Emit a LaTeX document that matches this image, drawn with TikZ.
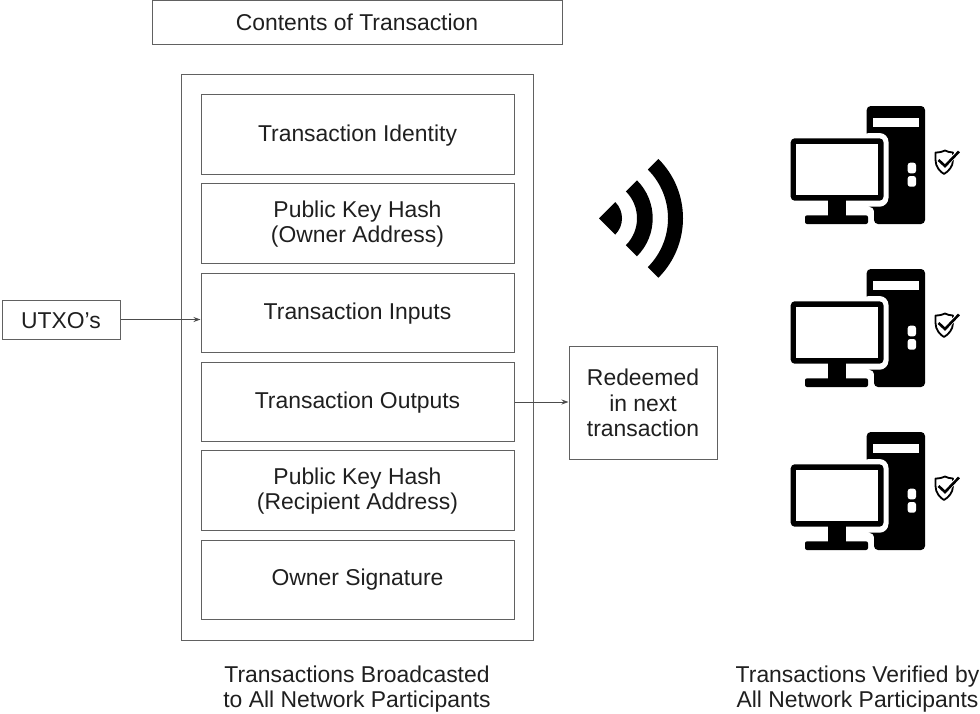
\documentclass[tikz,border=0pt]{standalone}
\usepackage{fontspec}
\setmainfont{Liberation Sans}
\usetikzlibrary{arrows.meta}
\tikzset{
  boxn/.style={draw=black!62,line width=1pt,inner sep=0pt},
  txt/.style={inner sep=0pt,align=center,font=\fontsize{22.9}{25.7}\selectfont,text=black!88},
  conn/.style={draw=black!70,line width=0.9pt,-{Stealth[length=7pt,width=5pt]}}
}
\newcommand{\pcicon}[1]{%
\begin{scope}[yshift=-#1pt]
  \fill[black,rounded corners=4pt] (866.7,106) -- (925,106) -- (925,224) -- (874,224) -- (874,207) -- (866.7,207) -- (866.7,133) -- cycle;
  \fill[white] (872.7,117.7) rectangle (919.3,126.7);
  \fill[white,rounded corners=2.5pt] (907.7,162.7) rectangle (916,173.3);
  \fill[white,rounded corners=2.5pt] (907.7,176) rectangle (916,186.7);
  \fill[white,rounded corners=9pt] (860,133) -- (888.5,133) -- (888.5,206.7) -- (860,206.7) -- cycle;
  \fill[black,rounded corners=4pt] (790.7,138.3) rectangle (883.5,200.7);
  \fill[white] (796,144) rectangle (878,195);
  \fill[black] (828,199) rectangle (846,216);
  \fill[black,rounded corners=2pt] (805,215.3) rectangle (868,224);
  \draw[black,line width=1.8pt,fill=white,line join=round] (935.5,152.5) .. controls (940,152.5) and (943,151.5) .. (945,150.5) .. controls (947,151.5) and (950,152.5) .. (953,152.5) -- (953,160) .. controls (953,167) and (948,171.5) .. (944,174) .. controls (940,171.5) and (935.5,167) .. (935.5,160) -- cycle;
  \draw[white,line width=4.4pt] (947,163.5) -- (959,151.5);
  \draw[black,line width=2.6pt] (938.5,160) -- (945,166) -- (959,151.5);
\end{scope}}
\begin{document}
\begin{tikzpicture}[x=1pt,y=-1pt]
\useasboundingbox (0,0) rectangle (980,713);
\node[boxn,minimum width=410pt,minimum height=44pt] (title) at (357,22) {};
\node[txt] (titlet) at (357,22.5) {Contents of Transaction};
\node[boxn,minimum width=352pt,minimum height=566pt] (outer) at (357,357) {};
\node[boxn,minimum width=313pt,minimum height=80pt] (tid) at (357.5,134.5) {};
\node[txt] (tidt) at (357.5,135.5) {Transaction Identity};
\node[boxn,minimum width=313pt,minimum height=80pt] (owner) at (357.5,223) {};
\node[txt] (ownert) at (357.5,224) {Public Key Hash\\(Owner Address)};
\node[boxn,minimum width=313pt,minimum height=79pt] (inputs) at (357.5,312.5) {};
\node[txt] (inputst) at (357.5,313.5) {Transaction Inputs};
\node[boxn,minimum width=313pt,minimum height=79pt] (outputs) at (357.5,402) {};
\node[txt] (outputst) at (357.5,402.5) {Transaction Outputs};
\node[boxn,minimum width=313pt,minimum height=80pt] (recip) at (357.5,490) {};
\node[txt] (recipt) at (357.5,491) {Public Key Hash\\(Recipient Address)};
\node[boxn,minimum width=313pt,minimum height=79pt] (sig) at (357.5,579.5) {};
\node[txt] (sigt) at (357.5,579.5) {Owner Signature};
\node[boxn,minimum width=118pt,minimum height=39pt] (utxo) at (61,319.5) {};
\node[txt] (utxot) at (61,321) {UTXO’s};
\node[boxn,minimum width=148pt,minimum height=113pt] (redeem) at (643,402.5) {};
\node[txt] (redeemt) at (643,403) {Redeemed\\in next\\transaction};
\draw[conn] (utxo.east) -- (inputs.west |- utxo.east);
\draw[conn] (outputs.east) -- (redeem.west |- outputs.east);
\node[txt] (cap1) at (357,689) {Transactions Broadcasted\\to All Network Participants};
\node[txt] (cap2) at (857.5,689) {Transactions Verified by\\All Network Participants};
% wireless symbol
\begin{scope}[shift={(599,218.3)}]
  \fill[black] (0,0) -- (45:23) arc[start angle=45,end angle=-45,radius=23] -- cycle;
  \fill[black] (45:38) arc[start angle=45,end angle=-45,radius=38] -- (-45:53.7) arc[start angle=-45,end angle=45,radius=53.7] -- cycle;
  \fill[black] (45:69) arc[start angle=45,end angle=-45,radius=69] -- (-45:84) arc[start angle=-45,end angle=45,radius=84] -- cycle;
\end{scope}
\pcicon{0}
\pcicon{163}
\pcicon{326}
\end{tikzpicture}
\end{document}
